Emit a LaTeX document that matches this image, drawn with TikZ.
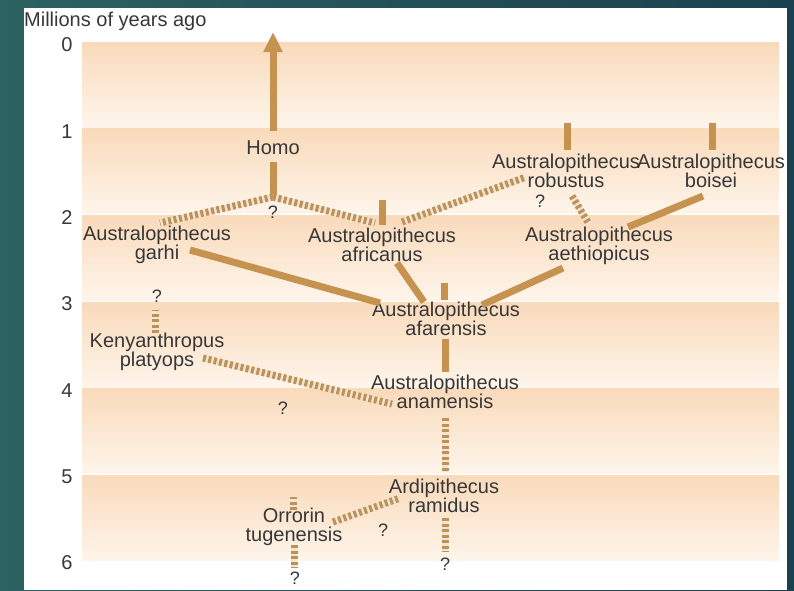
\documentclass[tikz,border=0pt]{standalone}
\usepackage{fontspec}
\setmainfont{Liberation Sans}
\usetikzlibrary{arrows.meta}

\definecolor{tealleft}{RGB}{44,98,98}
\definecolor{tealright}{RGB}{27,64,78}
\definecolor{bandtop}{RGB}{249,218,186}
\definecolor{bandbottom}{RGB}{254,245,235}
\definecolor{stem}{RGB}{198,146,80}
\definecolor{guess}{RGB}{190,146,86}
\definecolor{labelgray}{RGB}{55,55,55}

\tikzset{
  taxon/.style={align=center, inner sep=2pt, text=labelgray, font=\fontsize{20}{19}\selectfont},
  unknown/.style={inner sep=1pt, text=labelgray, font=\fontsize{18}{18}\selectfont},
  lineage/.style={draw=stem, line width=7pt},
  uncertain/.style={draw=guess, line width=7pt, dash pattern=on 3pt off 2.5pt,
    preaction={draw=guess!25, line width=6pt, dash pattern=}},
}

\begin{document}
\begin{tikzpicture}[x=1pt, y=-1pt]
    \useasboundingbox (0,0) rectangle (794,590);
    \shade[left color=tealleft, right color=tealright] (0,0) rectangle (794,590);
    \fill[white] (24,8) rectangle (787,590);

    % time bands
    \foreach \k in {0,...,5}
        \shade[top color=bandtop, bottom color=bandbottom]
            (82,{42+86.67*\k}) rectangle (779,{42+86.67*\k+85});

    \node[text=labelgray, font=\fontsize{20}{20}\selectfont, anchor=west, inner sep=0pt] (axis) at (24,21) {Millions of years ago};
    \foreach \k in {0,...,6}
        \node[text=labelgray, font=\fontsize{20}{20}\selectfont] at (67,{45+86.3*\k}) {\k};

    % species
    \node[taxon] (homo) at (273,148) {Homo};
    \node[taxon] (garhi) at (157,245) {Australopithecus\\garhi};
    \node[taxon] (africanus) at (382,245) {Australopithecus\\africanus};
    \node[taxon] (robustus) at (566,171) {Australopithecus\\robustus};
    \node[taxon] (boisei) at (711,171) {Australopithecus\\boisei};
    \node[taxon] (aethiopicus) at (599,246) {Australopithecus\\aethiopicus};
    \node[taxon] (afarensis) at (446,319) {Australopithecus\\afarensis};
    \node[taxon] (kenyan) at (157,352) {Kenyanthropus\\platyops};
    \node[taxon] (anamensis) at (445,392) {Australopithecus\\anamensis};
    \node[taxon] (ramidus) at (444,496) {Ardipithecus\\ramidus};
    \node[taxon] (orrorin) at (294,527) {Orrorin\\tugenensis};

    \node[unknown] (q1) at (273,212) {?};
    \node[unknown] (q2) at (540,201) {?};
    \node[unknown] (q3) at (157,296) {?};
    \node[unknown] (q4) at (283,408) {?};
    \node[unknown] (q5) at (383,530) {?};
    \node[unknown] (q6) at (295,578) {?};
    \node[unknown] (q7) at (445,564) {?};

    \coordinate (fork) at (273,197);
    \coordinate (today) at (273,32);

    % solid lineages
    \draw[lineage, -{Triangle[width=18pt,length=20pt]}] ([shift={(0,-17)}]homo.center) -- (today);
    \draw[lineage] ([shift={(0,14)}]homo.center) -- (fork);
    \draw[lineage] ([shift={(33,5)}]garhi.center) -- ([shift={(-66,-16)}]afarensis.center);
    \draw[lineage] ([shift={(0,-20)}]africanus.center) -- ++(0,-25);
    \draw[lineage] ([shift={(15,18)}]africanus.center) -- ([shift={(-22,-17)}]afarensis.center);
    \draw[lineage] ([shift={(-2,-19)}]afarensis.center) -- ++(0,-17);
    \draw[lineage] ([shift={(36,-14)}]afarensis.center) -- ([shift={(-36,22)}]aethiopicus.center);
    \draw[lineage] ([shift={(-1,20)}]afarensis.center) -- ([shift={(0,-20)}]anamensis.center);
    \draw[lineage] ([shift={(1,-21)}]robustus.center) -- ++(0,-27);
    \draw[lineage] ([shift={(1,-21)}]boisei.center) -- ++(0,-27);
    \draw[lineage] ([shift={(-8,25)}]boisei.center) -- ([shift={(29,-19)}]aethiopicus.center);

    % uncertain links
    \draw[uncertain] (fork) -- ([shift={(3,-22)}]garhi.center);
    \draw[uncertain] (fork) -- ([shift={(-7,-22)}]africanus.center);
    \draw[uncertain] ([shift={(20,-23)}]africanus.center) -- ([shift={(-40,6)}]robustus.center);
    \draw[uncertain] ([shift={(6,25)}]robustus.center) -- ([shift={(-10,-22)}]aethiopicus.center);
    \draw[uncertain] ([shift={(-2,-19)}]kenyan.center) -- ++(0,-23);
    \draw[uncertain] ([shift={(46,6)}]kenyan.center) -- ([shift={(-53,12)}]anamensis.center);
    \draw[uncertain] ([shift={(0,26)}]anamensis.center) -- ([shift={(1,-24)}]ramidus.center);
    \draw[uncertain] ([shift={(1,22)}]ramidus.center) -- ++(0,34);
    \draw[uncertain] ([shift={(-1,-17)}]orrorin.center) -- ++(0,-13);
    \draw[uncertain] ([shift={(0,18)}]orrorin.center) -- ++(0,23);
    \draw[uncertain] ([shift={(39,-5)}]orrorin.center) -- ([shift={(-44,2)}]ramidus.center);
\end{tikzpicture}
\end{document}
